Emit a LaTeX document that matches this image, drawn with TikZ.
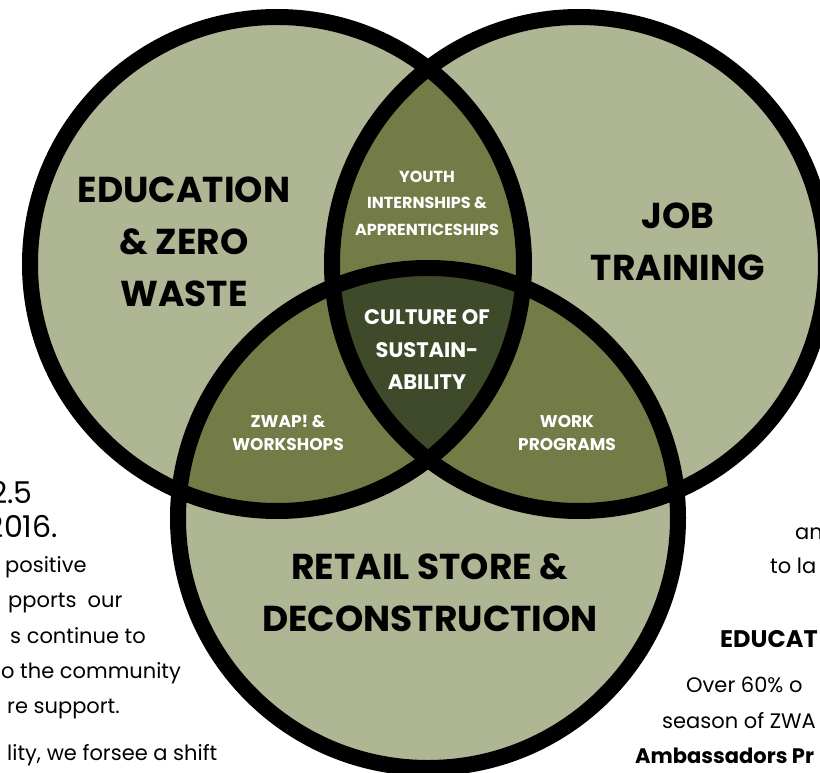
\documentclass[tikz,border=0pt]{standalone}
\usepackage{fontspec}
\setmainfont{Poppins}
\definecolor{sage}{HTML}{AEB693}
\definecolor{moss}{HTML}{737C47}
\definecolor{forest}{HTML}{3F4A2A}

\begin{document}
\begin{tikzpicture}[x=1pt,y=-1pt,
    ring/.style = {draw=black, line width=16pt},
    biglabel/.style = {font=\bfseries\fontsize{36}{52}\selectfont, align=center, text=black, inner sep=0pt},
    toplabel/.style = {font=\bfseries\fontsize{16}{26.5}\selectfont, align=center, text=white, inner sep=0pt},
    corelabel/.style = {font=\bfseries\fontsize{21}{32.5}\selectfont, align=center, text=white, inner sep=0pt},
    sidelabel/.style = {font=\bfseries\fontsize{17}{23}\selectfont, align=center, text=white, inner sep=0pt},
    bodytext/.style = {font=\fontsize{21}{26}\selectfont, inner sep=0pt}]
    \useasboundingbox (0,0) rectangle (820,773);
    \clip (0,0) rectangle (820,773);
    \fill[white] (0,0) rectangle (820,773);

    % centres of the three circles
    \coordinate (edu) at (277,264);
    \coordinate (job) at (579,264);
    \coordinate (shop) at (428,518);

    % text behind the diagram
    \begin{scope}[every node/.style = {bodytext, anchor=base east}]
        \node(l1) at (33,503) {\fontsize{30}{30}\selectfont 2.5};
        \node(l2) at (58,537) {\fontsize{30}{30}\selectfont 2016.};
    \end{scope}
    \begin{scope}[every node/.style = {bodytext, anchor=base west}]
        \node(l3) at (5,572) {positive};
        \node(l4) at (8,607) {pports~~our};
        \node(l5) at (10,643) {s continue to};
        \node(l6) at (1,678) {o the community};
        \node(l7) at (7,713) {re support.};
        \node(l8) at (7,760) {lity, we forsee a shift};
        \node(r1) at (795,539) {an};
        \node(r2) at (770,573) {to la};
        \node(r3) at (720,647) {\bfseries\fontsize{24}{26}\selectfont EDUCAT};
        \node(r4) at (686,692) {Over 60\% o};
        \node(r5) at (662,728) {season of ZWA};
        \node(r6) at (635,763) {\bfseries Ambassadors Pr};
    \end{scope}

    % circles and their overlaps
    \fill[sage] (edu) circle (247pt) (job) circle (247pt) (shop) circle (250pt);
    \begin{scope}
        \clip (edu) circle (247pt);
        \fill[moss] (job) circle (247pt) (shop) circle (250pt);
    \end{scope}
    \begin{scope}
        \clip (job) circle (247pt);
        \fill[moss] (shop) circle (250pt);
        \clip (edu) circle (247pt);
        \fill[forest] (shop) circle (250pt);
    \end{scope}
    \draw[ring] (edu) circle (247pt) (job) circle (247pt) (shop) circle (250pt);

    % labels
    \node[biglabel](edulabel) at (184,242) {EDUCATION\\\& ZERO\\WASTE};
    \node[biglabel](joblabel) at (678,242) {JOB\\TRAINING};
    \node[biglabel](shoplabel) at (430,593) {RETAIL STORE \&\\DECONSTRUCTION};
    \node[toplabel](youth) at (427,203) {YOUTH\\INTERNSHIPS \&\\APPRENTICESHIPS};
    \node[corelabel](culture) at (427,350) {CULTURE OF\\SUSTAIN-\\ABILITY};
    \node[sidelabel](zwap) at (288,433) {ZWAP! \&\\WORKSHOPS};
    \node[sidelabel](work) at (567,433) {WORK\\PROGRAMS};
\end{tikzpicture}
\end{document}
